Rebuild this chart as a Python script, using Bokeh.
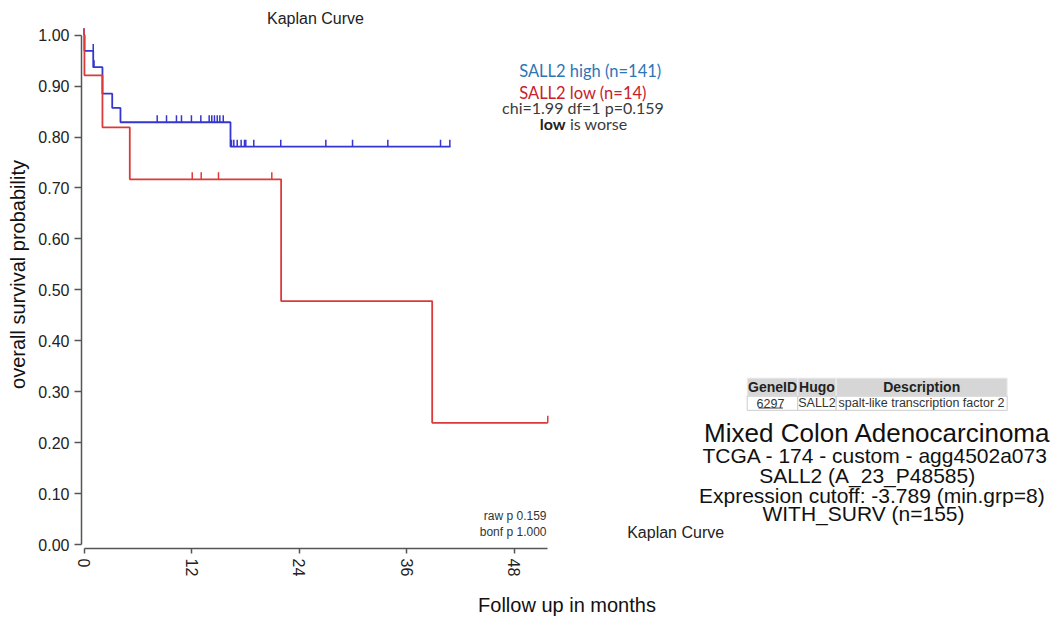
import math
from bokeh.plotting import figure
from bokeh.models import Range1d, FixedTicker, PrintfTickFormatter
from bokeh.core.properties import value
from bokeh.embed import file_html
from bokeh.resources import INLINE

# ---------------- data ----------------
hi_times = [0.0, 0.05, 1.03, 2.06, 3.15, 4.07, 16.35, 40.9]
hi_surv = [1.0, 0.969, 0.937, 0.885, 0.857, 0.829, 0.781, 0.781]
lo_times = [0.0, 0.05, 2.06, 5.11, 22.0, 38.86, 51.76]
lo_surv = [1.0, 0.921, 0.819, 0.717, 0.478, 0.239, 0.239]

hi_cens_t = [0.0, 1.03, 1.12,
             8.17, 9.21, 10.32, 10.88, 11.99, 13.04, 13.97, 14.26, 14.56, 14.87, 15.16, 15.54,
             16.46, 16.72, 17.10, 17.54, 17.91, 18.06, 18.95, 21.96, 26.99, 29.97, 33.91, 39.79, 40.83]
hi_cens_s = [1.0, 0.969, 0.937] + [0.829] * 12 + [0.781] * 13
lo_cens_t = [0.0, 12.08, 13.08, 15.01, 20.96, 51.76]
lo_cens_s = [1.0, 0.717, 0.717, 0.717, 0.717, 0.239]

x_ticks = [0, 12, 24, 36, 48]
y_ticks = [0.0, 0.1, 0.2, 0.3, 0.4, 0.5, 0.6, 0.7, 0.8, 0.9, 1.0]
x_axis_end = 51.76

legend_hi = "SALL2 high (n=141)"
legend_lo = "SALL2 low (n=14)"
stats_text = "chi=1.99 df=1 p=0.159"
raw_p = "raw p 0.159"
bonf_p = "bonf p 1.000"
table_header = ["GeneID", "Hugo", "Description"]
table_row = ["6297", "SALL2", "spalt-like transcription factor 2"]
info_lines = ["Mixed Colon Adenocarcinoma", "TCGA - 174 - custom - agg4502a073",
              "SALL2 (A_23_P48585)", "Expression cutoff: -3.789 (min.grp=8)",
              "WITH_SURV (n=155)"]

# ---------------- canvas-pixel -> data helpers (layout only) ----------------
W, H = 1052, 619
X0_PX, PX_PER_MONTH = 83.5, 8.96
Y0_PX, PX_PER_UNIT = 550.0, 515.0
FRAME_L, FRAME_B = 81, 554


def dx(px):
    return (px - X0_PX) / PX_PER_MONTH


def dy(py):
    return (Y0_PX - py) / PX_PER_UNIT


ARIAL = value("Liberation Sans")
CALIBRI = value("Lato")
BLUE_LINE = "#3535cf"
RED_LINE = "#dc3a3a"
TICK_H = 7.0 / PX_PER_UNIT

p = figure(width=W, height=H, output_backend="svg", toolbar_location=None,
           title=None,
           x_range=Range1d(dx(FRAME_L), dx(W)), y_range=Range1d(dy(FRAME_B), dy(0)),
           min_border_left=FRAME_L, min_border_right=0, min_border_top=0,
           min_border_bottom=H - FRAME_B)
p.outline_line_color = None
p.grid.visible = False
p.background_fill_color = "white"
p.border_fill_color = "white"

# axes
xa = p.xaxis[0]
xa.ticker = FixedTicker(ticks=x_ticks)
xa.bounds = (0, x_axis_end)
xa.major_tick_out = 5
xa.major_tick_in = 0
xa.minor_tick_line_color = None
xa.major_label_orientation = -math.pi / 2
xa.major_label_text_font = "Liberation Sans"
xa.major_label_text_font_size = "16px"
xa.major_label_text_color = "#222222"
xa.major_label_standoff = 5
xa.axis_label = "Follow up in months"
xa.axis_label_text_font = "Liberation Sans"
xa.axis_label_text_font_size = "20px"
xa.axis_label_text_font_style = "normal"
xa.axis_label_text_color = "#111111"
xa.axis_label_standoff = 15
xa.axis_line_color = "#555555"
xa.axis_line_width = 1.5
xa.major_tick_line_color = "#555555"
xa.major_tick_line_width = 1.5

ya = p.yaxis[0]
ya.ticker = FixedTicker(ticks=y_ticks)
ya.formatter = PrintfTickFormatter(format="%.2f")
ya.bounds = (0, 1)
ya.major_tick_out = 7
ya.major_tick_in = 0
ya.minor_tick_line_color = None
ya.major_label_text_font = "Liberation Sans"
ya.major_label_text_font_size = "16px"
ya.major_label_text_color = "#222222"
ya.major_label_standoff = 5
ya.axis_label = "overall survival probability"
ya.axis_label_text_font = "Liberation Sans"
ya.axis_label_text_font_size = "20px"
ya.axis_label_text_font_style = "normal"
ya.axis_label_text_color = "#111111"
ya.axis_label_standoff = 6
ya.axis_line_color = "#555555"
ya.axis_line_width = 1.5
ya.major_tick_line_color = "#555555"
ya.major_tick_line_width = 1.5

# survival curves
p.step(hi_times, hi_surv, mode="after", line_color=BLUE_LINE, line_width=1.8)
p.segment(x0=hi_cens_t, y0=hi_cens_s, x1=hi_cens_t, y1=[s + TICK_H for s in hi_cens_s],
          line_color=BLUE_LINE, line_width=1.5)
p.step(lo_times, lo_surv, mode="after", line_color=RED_LINE, line_width=1.8)
p.segment(x0=lo_cens_t, y0=lo_cens_s, x1=lo_cens_t, y1=[s + TICK_H for s in lo_cens_s],
          line_color=RED_LINE, line_width=1.5)


def txt(px, py, s, font=ARIAL, size="16px", color="#222222", align="center", style="normal"):
    p.text(x=[dx(px)], y=[dy(py)], text=[s], text_align=align, text_baseline="middle",
           text_font=font, text_font_size=size, text_color=color, text_font_style=style)


# titles
txt(315, 18, "Kaplan Curve", size="16px")
txt(626.7, 538.3, "Kaplan Curve", size="16px", align="left")

# legend block
txt(589.7, 71.7, legend_hi, font=CALIBRI, size="16.5px", color="#2e75b6")
txt(582.5, 93.3, legend_lo, font=CALIBRI, size="16.5px", color="#c8202c")
txt(582.5, 108.3, stats_text, font=CALIBRI, size="16px", color="#3a3a3a")
txt(539.3, 124.0, "low", font=CALIBRI, size="16px", color="#222222", align="left", style="bold")
txt(569.5, 124.0, "is worse", font=CALIBRI, size="16px", color="#3a3a3a", align="left")

# p-values
txt(546, 521, raw_p, size="12px", color="#333333", align="right")
txt(546, 537, bonf_p, size="12px", color="#333333", align="right")

# gene table
col_edges = [746.7, 797.3, 835.7, 1006.7]
lefts = [dx(a) for a in col_edges[:-1]]
rights = [dx(b) for b in col_edges[1:]]
p.quad(left=lefts, right=rights, top=dy(381.7), bottom=dy(400.0),
       fill_color="#d6d6d6", line_color="#eeeeee", line_width=1)
p.quad(left=lefts, right=rights, top=dy(400.0), bottom=dy(414.3),
       fill_color="#ffffff", line_color="#cccccc", line_width=1)
hdr_centers = [772.0, 816.5, 921.2]
row_centers = [770.0, 816.5, 921.0]
for cx, s in zip(hdr_centers, table_header):
    txt(cx, 391.0, s, size="14px", color="#222222", style="bold")
for cx, s in zip(row_centers, table_row):
    txt(cx, 407.3, s, size="12.5px", color="#333333")
p.segment(x0=[dx(758)], y0=[dy(412)], x1=[dx(782.5)], y1=[dy(412)], line_color="#444444", line_width=1)

# info block
info_x = [877.0, 874.8, 866.7, 871.3, 863.0]
info_y = [437.0, 460.0, 480.0, 500.0, 519.0]
info_size = ["26px", "21px", "21px", "21px", "21px"]
for cx, cy, sz, s in zip(info_x, info_y, info_size, info_lines):
    txt(cx, cy, s, size=sz, color="#111111")

open("out.html", "w").write(file_html(p, INLINE))
